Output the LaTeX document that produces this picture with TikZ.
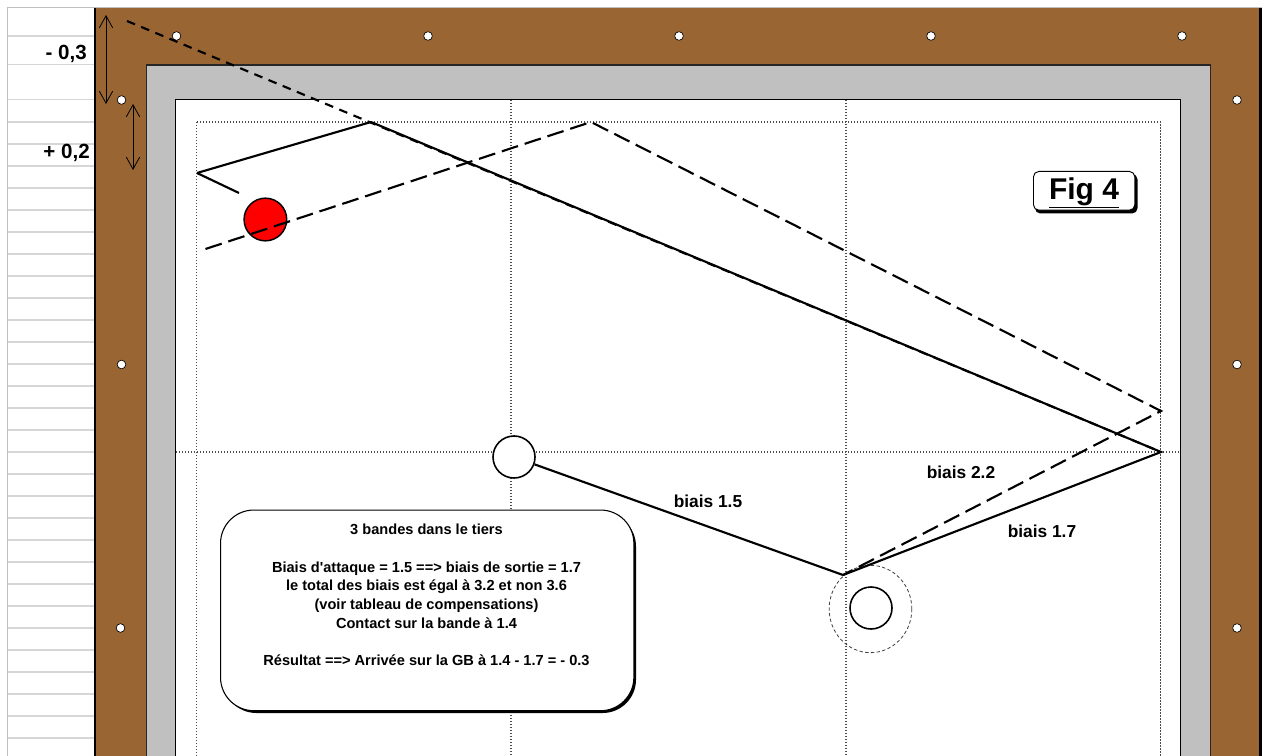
\documentclass[tikz,border=0pt]{standalone}
\usepackage{fontspec}
\setmainfont{Liberation Sans}[Ligatures=TeXOff]
\usetikzlibrary{arrows.meta,shapes.geometric}
\definecolor{wood}{RGB}{153,102,51}
\definecolor{felt}{RGB}{192,192,192}
\definecolor{rowline}{RGB}{214,214,214}
\tikzset{
  x=0.75pt,y=-0.75pt,
  hole/.style={circle,draw=black,fill=white,line width=0.5pt,minimum size=6.5pt,inner sep=0pt},
  dots/.style={draw=black!70,line width=0.9pt,dash pattern=on 1.1pt off 1.15pt},
  solidline/.style={draw=black,line width=1.6pt},
  dashline/.style={draw=black,line width=1.6pt,dash pattern=on 12.75pt off 5.25pt},
  shortdash/.style={draw=black,line width=1.6pt,dash pattern=on 6.5pt off 5pt},
  dimarrow/.style={draw=black,line width=0.7pt,{Straight Barb[length=9pt,width=10pt,line width=0.6pt]}-{Straight Barb[length=9pt,width=10pt,line width=0.6pt]}},
  ball/.style={circle,draw=black,fill=white,line width=1.2pt,inner sep=0pt,minimum size=31.5pt},
  lab/.style={font=\bfseries\fontsize{13}{15}\selectfont,inner sep=0pt},
  side/.style={font=\bfseries\fontsize{15.4}{17}\selectfont,inner sep=0pt,anchor=east},
}
\begin{document}
\begin{tikzpicture}
\useasboundingbox (0,0) rectangle (1268,756);
\fill[white] (0,0) rectangle (1268,756);
% sheet
\draw[felt,line width=0.9pt] (7.3,756) -- (7.3,7.5) -- (1262,7.5);
\foreach \yy in {36,64.5,99.5,122,144,166,188,210,232,254,276,298,320,342,364,386,408,430,452,474,496,518,540,562,584,606,628,650,672,694,716,738}
  \draw[rowline,line width=1pt] (8,\yy) -- (95,\yy);
% frame
\fill[wood] (95,8) rectangle (1260,756);
\draw[black,line width=1.5pt] (95,8) -- (95,756);
\draw[black,line width=1.6pt] (1260.5,8) -- (1260.5,756);
\fill[felt,draw=black!85,line width=0.8pt] (146.7,65) rectangle (1210.7,757);
\fill[white,draw=black,line width=1.4pt] (175.5,99.5) rectangle (1180.5,757);
% holes
\foreach \i/\xx/\yy in {a/176.5/36,b/428/36,c/679/36,d/931/36,e/1182/36,f/121.5/100,g/1237/100,h/121.5/364.5,i/1237/364.5,j/120.5/628,k/1237/628}
  \node[hole] (h\i) at (\xx,\yy) {};
% grid
\draw[dots] (196.8,122) rectangle (1160.5,770);
\draw[dots] (511,100) -- (511,756);
\draw[dots] (846,100) -- (846,756);
\draw[dots] (176,452) -- (1180,452);
% points
\coordinate (top) at (127,21);
\coordinate (p1) at (371,122);
\coordinate (p2) at (591,122);
\coordinate (left) at (197,173);
\coordinate (stub) at (239,193);
\coordinate (dstart) at (205.5,249);
\coordinate (c1) at (1161,452);
\coordinate (c2) at (1161,411);
\coordinate (ct) at (843,575);
% target zone
\node[ellipse,draw=black!75,dash pattern=on 2.5pt off 1.8pt,line width=0.6pt,minimum width=62pt,minimum height=65.5pt,inner sep=0pt] (zone) at (870.5,609) {};
\node[ball] (b2) at (871,608) {};
\node[ball] (b1) at (514,457) {};
\node[circle,draw=black,fill=red,line width=1.1pt,inner sep=0pt,minimum size=32pt] (rb) at (265.4,219.5) {};
% paths
\draw[solidline] (left) -- (p1);
\draw[solidline] (left) -- (stub);
\draw[solidline] (p1) -- (c1) -- (ct);
\draw[solidline] (b1) -- (ct);
\draw[shortdash] (top) -- (c1);
\draw[dashline] (dstart) -- (p2) -- (c2) -- (ct);
% dims
\draw[dimarrow] (106,15) -- (106,104);
\draw[dimarrow] (133,104) -- (133,170);
% side labels
\node[side] (m03) at (87,53.5) {- 0,3};
\node[side] (p02) at (90,153) {+ 0,2};
% labels
\node[lab] (l15) at (708,501) {biais 1.5};
\node[lab] (l22) at (961,472) {biais 2.2};
\node[lab] (l17) at (1042,531.5) {biais 1.7};
% note
\fill[black,rounded corners=25pt] (223,513) rectangle (636,713);
\node[draw=black,fill=white,line width=0.8pt,rounded corners=25pt,minimum width=310pt,minimum height=150.5pt,inner sep=0pt,anchor=north west] (note) at (220,509.5) {};
\node[font=\bfseries\fontsize{10.95}{14}\selectfont,align=center,inner sep=0pt,anchor=north] (notetext) at (426.5,524) {3 bandes dans le tiers\\[14pt]Biais d'attaque = 1.5 ==> biais de sortie = 1.7\\le total des biais est égal à 3.2 et non 3.6\\(voir tableau de compensations)\\Contact sur la bande à 1.4\\[14pt]Résultat ==> Arrivée sur la GB à 1.4 - 1.7 = - 0.3};
% fig
\fill[black,rounded corners=4pt] (1035,174) rectangle (1137.5,213.5);
\node[draw=black,fill=white,line width=0.7pt,rounded corners=4pt,minimum width=76pt,minimum height=29pt,inner sep=0pt,anchor=north west] (fig) at (1033,171) {};
\node[font=\bfseries\fontsize{22.5}{24}\selectfont,inner sep=0pt] (figt) at (1084,193) {\underline{Fig 4}};
\end{tikzpicture}
\end{document}
